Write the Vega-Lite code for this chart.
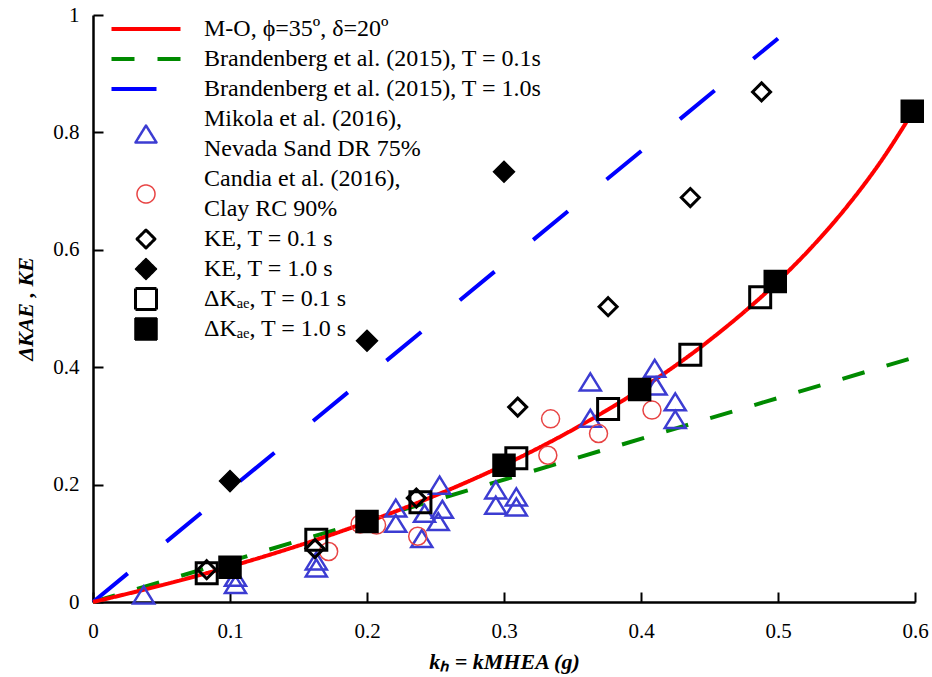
{
  "$schema": "https://vega.github.io/schema/vega-lite/v6.json",
  "width": 822,
  "height": 587,
  "autosize": {"type": "none"},
  "padding": {"left": 93, "top": 15, "right": 17, "bottom": 75},
  "background": "white",
  "config": {
    "font": "Liberation Serif",
    "view": {"stroke": null},
    "legend": {
      "orient": "none",
      "legendX": 41,
      "legendY": 2,
      "padding": 0,
      "labelFont": "Liberation Serif",
      "labelFontSize": 24,
      "labelColor": "black",
      "labelLimit": 600,
      "labelOffset": 46,
      "rowPadding": 6,
      "symbolSize": 4
    }
  },
  "data": {
    "values": [
      {"series": "Brandenberg et al. (2015), T = 0.1s", "kh": 0, "K": 0},
      {"series": "Brandenberg et al. (2015), T = 0.1s", "kh": 0.6, "K": 0.417},
      {"series": "Brandenberg et al. (2015), T = 1.0s", "kh": 0, "K": 0},
      {"series": "Brandenberg et al. (2015), T = 1.0s", "kh": 0.5, "K": 0.96},
      {"series": "M-O, ϕ=35º, δ=20º", "kh": 0, "K": 0},
      {"series": "M-O, ϕ=35º, δ=20º", "kh": 0.05, "K": 0.0285},
      {"series": "M-O, ϕ=35º, δ=20º", "kh": 0.1, "K": 0.0603},
      {"series": "M-O, ϕ=35º, δ=20º", "kh": 0.15, "K": 0.096},
      {"series": "M-O, ϕ=35º, δ=20º", "kh": 0.2, "K": 0.1361},
      {"series": "M-O, ϕ=35º, δ=20º", "kh": 0.25, "K": 0.1815},
      {"series": "M-O, ϕ=35º, δ=20º", "kh": 0.3, "K": 0.2333},
      {"series": "M-O, ϕ=35º, δ=20º", "kh": 0.35, "K": 0.2932},
      {"series": "M-O, ϕ=35º, δ=20º", "kh": 0.4, "K": 0.3629},
      {"series": "M-O, ϕ=35º, δ=20º", "kh": 0.45, "K": 0.4459},
      {"series": "M-O, ϕ=35º, δ=20º", "kh": 0.5, "K": 0.5463},
      {"series": "M-O, ϕ=35º, δ=20º", "kh": 0.525, "K": 0.6055},
      {"series": "M-O, ϕ=35º, δ=20º", "kh": 0.55, "K": 0.6727},
      {"series": "M-O, ϕ=35º, δ=20º", "kh": 0.575, "K": 0.7503},
      {"series": "M-O, ϕ=35º, δ=20º", "kh": 0.6, "K": 0.8411},
      {"series": "Mikola et al. (2016), Nevada Sand DR 75%", "kh": 0.037, "K": 0.012},
      {"series": "Mikola et al. (2016), Nevada Sand DR 75%", "kh": 0.104, "K": 0.03},
      {"series": "Mikola et al. (2016), Nevada Sand DR 75%", "kh": 0.104, "K": 0.042},
      {"series": "Mikola et al. (2016), Nevada Sand DR 75%", "kh": 0.163, "K": 0.058},
      {"series": "Mikola et al. (2016), Nevada Sand DR 75%", "kh": 0.163, "K": 0.07},
      {"series": "Mikola et al. (2016), Nevada Sand DR 75%", "kh": 0.221, "K": 0.134},
      {"series": "Mikola et al. (2016), Nevada Sand DR 75%", "kh": 0.221, "K": 0.16},
      {"series": "Mikola et al. (2016), Nevada Sand DR 75%", "kh": 0.24, "K": 0.108},
      {"series": "Mikola et al. (2016), Nevada Sand DR 75%", "kh": 0.242, "K": 0.151},
      {"series": "Mikola et al. (2016), Nevada Sand DR 75%", "kh": 0.253, "K": 0.199},
      {"series": "Mikola et al. (2016), Nevada Sand DR 75%", "kh": 0.255, "K": 0.158},
      {"series": "Mikola et al. (2016), Nevada Sand DR 75%", "kh": 0.252, "K": 0.137},
      {"series": "Mikola et al. (2016), Nevada Sand DR 75%", "kh": 0.294, "K": 0.191},
      {"series": "Mikola et al. (2016), Nevada Sand DR 75%", "kh": 0.294, "K": 0.165},
      {"series": "Mikola et al. (2016), Nevada Sand DR 75%", "kh": 0.309, "K": 0.179},
      {"series": "Mikola et al. (2016), Nevada Sand DR 75%", "kh": 0.309, "K": 0.162},
      {"series": "Mikola et al. (2016), Nevada Sand DR 75%", "kh": 0.363, "K": 0.375},
      {"series": "Mikola et al. (2016), Nevada Sand DR 75%", "kh": 0.363, "K": 0.313},
      {"series": "Mikola et al. (2016), Nevada Sand DR 75%", "kh": 0.41, "K": 0.398},
      {"series": "Mikola et al. (2016), Nevada Sand DR 75%", "kh": 0.411, "K": 0.368},
      {"series": "Mikola et al. (2016), Nevada Sand DR 75%", "kh": 0.425, "K": 0.341},
      {"series": "Mikola et al. (2016), Nevada Sand DR 75%", "kh": 0.425, "K": 0.311},
      {"series": "Candia et al. (2016), Clay RC 90%", "kh": 0.172, "K": 0.086},
      {"series": "Candia et al. (2016), Clay RC 90%", "kh": 0.195, "K": 0.133},
      {"series": "Candia et al. (2016), Clay RC 90%", "kh": 0.207, "K": 0.131},
      {"series": "Candia et al. (2016), Clay RC 90%", "kh": 0.237, "K": 0.112},
      {"series": "Candia et al. (2016), Clay RC 90%", "kh": 0.334, "K": 0.312},
      {"series": "Candia et al. (2016), Clay RC 90%", "kh": 0.332, "K": 0.25},
      {"series": "Candia et al. (2016), Clay RC 90%", "kh": 0.369, "K": 0.287},
      {"series": "Candia et al. (2016), Clay RC 90%", "kh": 0.408, "K": 0.327},
      {"series": "KE, T = 0.1 s", "kh": 0.083, "K": 0.055},
      {"series": "KE, T = 0.1 s", "kh": 0.162, "K": 0.091},
      {"series": "KE, T = 0.1 s", "kh": 0.236, "K": 0.177},
      {"series": "KE, T = 0.1 s", "kh": 0.31, "K": 0.332},
      {"series": "KE, T = 0.1 s", "kh": 0.376, "K": 0.503},
      {"series": "KE, T = 0.1 s", "kh": 0.436, "K": 0.689},
      {"series": "KE, T = 0.1 s", "kh": 0.488, "K": 0.869},
      {"series": "KE, T = 1.0 s", "kh": 0.1, "K": 0.206},
      {"series": "KE, T = 1.0 s", "kh": 0.2, "K": 0.445},
      {"series": "KE, T = 1.0 s", "kh": 0.3, "K": 0.733},
      {"series": "ΔKₐₑ, T = 0.1 s", "kh": 0.083, "K": 0.049},
      {"series": "ΔKₐₑ, T = 0.1 s", "kh": 0.163, "K": 0.106},
      {"series": "ΔKₐₑ, T = 0.1 s", "kh": 0.239, "K": 0.17},
      {"series": "ΔKₐₑ, T = 0.1 s", "kh": 0.309, "K": 0.245},
      {"series": "ΔKₐₑ, T = 0.1 s", "kh": 0.376, "K": 0.329},
      {"series": "ΔKₐₑ, T = 0.1 s", "kh": 0.436, "K": 0.421},
      {"series": "ΔKₐₑ, T = 0.1 s", "kh": 0.487, "K": 0.519},
      {"series": "ΔKₐₑ, T = 1.0 s", "kh": 0.1, "K": 0.059},
      {"series": "ΔKₐₑ, T = 1.0 s", "kh": 0.2, "K": 0.137},
      {"series": "ΔKₐₑ, T = 1.0 s", "kh": 0.3, "K": 0.233},
      {"series": "ΔKₐₑ, T = 1.0 s", "kh": 0.399, "K": 0.362},
      {"series": "ΔKₐₑ, T = 1.0 s", "kh": 0.498, "K": 0.546},
      {"series": "ΔKₐₑ, T = 1.0 s", "kh": 0.598, "K": 0.836}
    ]
  },
  "encoding": {
    "x": {
      "field": "kh",
      "type": "quantitative",
      "scale": {"domain": [0, 0.6], "nice": false, "zero": false},
      "axis": {
        "values": [0, 0.1, 0.2, 0.3, 0.4, 0.5, 0.6],
        "format": "~g",
        "grid": false,
        "labelFlush": false,
        "domainColor": "black",
        "domainWidth": 2.5,
        "tickColor": "black",
        "tickWidth": 2,
        "tickSize": -10,
        "labelPadding": 28,
        "labelFont": "Liberation Serif",
        "labelFontSize": 21,
        "labelColor": "black",
        "title": "kₕ = kMHEA (g)",
        "titleFont": "Liberation Serif",
        "titleFontSize": 22,
        "titleFontWeight": "bold",
        "titleFontStyle": "italic",
        "titleColor": "black",
        "titlePadding": 10
      }
    },
    "y": {
      "field": "K",
      "type": "quantitative",
      "scale": {"domain": [0, 1], "nice": false, "zero": false},
      "axis": {
        "values": [0, 0.2, 0.4, 0.6, 0.8, 1],
        "format": "~g",
        "grid": false,
        "labelFlush": false,
        "domainColor": "black",
        "domainWidth": 2.5,
        "tickColor": "black",
        "tickWidth": 2,
        "tickSize": -10,
        "labelPadding": 24,
        "labelFont": "Liberation Serif",
        "labelFontSize": 21,
        "labelColor": "black",
        "title": "ΔKAE , KE",
        "titleFont": "Liberation Serif",
        "titleFontSize": 22,
        "titleFontWeight": "bold",
        "titleFontStyle": "italic",
        "titleColor": "black",
        "titlePadding": 15
      }
    },
    "stroke": {
      "field": "series",
      "type": "nominal",
      "title": null,
      "scale": {
        "domain": ["M-O, ϕ=35º, δ=20º", "Brandenberg et al. (2015), T = 0.1s", "Brandenberg et al. (2015), T = 1.0s", "Mikola et al. (2016), Nevada Sand DR 75%", "Candia et al. (2016), Clay RC 90%", "KE, T = 0.1 s", "KE, T = 1.0 s", "ΔKₐₑ, T = 0.1 s", "ΔKₐₑ, T = 1.0 s"],
        "range": ["#ff0000", "#008a00", "#0000ff", "#3c3cd2", "#e84444", "black", "black", "black", "black"]
      },
      "legend": {
        "title": null,
        "labelExpr": "indexof(datum.label, '(2016), ') >= 0 ? split(replace(datum.label, '(2016), ', '(2016),|'), '|') : datum.label",
        "encode": {
          "labels": {"update": {"lineHeight": {"value": 30}, "dy": {"signal": "indexof(datum.label, '(2016), ') >= 0 ? -15 : 0"}}},
          "symbols": {"update": {"strokeJoin": {"value": "round"}}}
        }
      }
    },
    "strokeWidth": {
      "field": "series",
      "type": "nominal",
      "title": null,
      "scale": {
        "type": "ordinal",
        "domain": ["M-O, ϕ=35º, δ=20º", "Brandenberg et al. (2015), T = 0.1s", "Brandenberg et al. (2015), T = 1.0s", "Mikola et al. (2016), Nevada Sand DR 75%", "Candia et al. (2016), Clay RC 90%", "KE, T = 0.1 s", "KE, T = 1.0 s", "ΔKₐₑ, T = 0.1 s", "ΔKₐₑ, T = 1.0 s"],
        "range": [4, 4, 4, 2.5, 1.5, 3, 1.5, 3, 1.5]
      },
      "legend": {
        "title": null,
        "labelExpr": "indexof(datum.label, '(2016), ') >= 0 ? split(replace(datum.label, '(2016), ', '(2016),|'), '|') : datum.label",
        "encode": {
          "labels": {"update": {"lineHeight": {"value": 30}, "dy": {"signal": "indexof(datum.label, '(2016), ') >= 0 ? -15 : 0"}}},
          "symbols": {"update": {"strokeJoin": {"value": "round"}}}
        }
      }
    }
  },
  "layer": [
    {
      "transform": [{"filter": {"field": "series", "oneOf": ["Brandenberg et al. (2015), T = 0.1s", "Brandenberg et al. (2015), T = 1.0s"]}}],
      "mark": {"type": "line"},
      "encoding": {
        "strokeDash": {
          "field": "series",
          "type": "nominal",
          "title": null,
          "scale": {
            "domain": ["M-O, ϕ=35º, δ=20º", "Brandenberg et al. (2015), T = 0.1s", "Brandenberg et al. (2015), T = 1.0s", "Mikola et al. (2016), Nevada Sand DR 75%", "Candia et al. (2016), Clay RC 90%", "KE, T = 0.1 s", "KE, T = 1.0 s", "ΔKₐₑ, T = 0.1 s", "ΔKₐₑ, T = 1.0 s"],
            "range": [[1, 0], [23, 23], [45, 50], [1, 0], [1, 0], [1, 0], [1, 0], [1, 0], [1, 0]]
          },
          "legend": {
            "title": null,
            "labelExpr": "indexof(datum.label, '(2016), ') >= 0 ? split(replace(datum.label, '(2016), ', '(2016),|'), '|') : datum.label",
            "encode": {
              "labels": {"update": {"lineHeight": {"value": 30}, "dy": {"signal": "indexof(datum.label, '(2016), ') >= 0 ? -15 : 0"}}},
              "symbols": {"update": {"strokeJoin": {"value": "round"}}}
            }
          }
        }
      }
    },
    {
      "transform": [{"filter": {"field": "series", "equal": "M-O, ϕ=35º, δ=20º"}}],
      "mark": {"type": "line", "interpolate": "monotone"},
      "encoding": {
        "strokeDash": {
          "field": "series",
          "type": "nominal",
          "title": null,
          "scale": {
            "domain": ["M-O, ϕ=35º, δ=20º", "Brandenberg et al. (2015), T = 0.1s", "Brandenberg et al. (2015), T = 1.0s", "Mikola et al. (2016), Nevada Sand DR 75%", "Candia et al. (2016), Clay RC 90%", "KE, T = 0.1 s", "KE, T = 1.0 s", "ΔKₐₑ, T = 0.1 s", "ΔKₐₑ, T = 1.0 s"],
            "range": [[1, 0], [23, 23], [45, 50], [1, 0], [1, 0], [1, 0], [1, 0], [1, 0], [1, 0]]
          },
          "legend": {
            "title": null,
            "labelExpr": "indexof(datum.label, '(2016), ') >= 0 ? split(replace(datum.label, '(2016), ', '(2016),|'), '|') : datum.label",
            "encode": {
              "labels": {"update": {"lineHeight": {"value": 30}, "dy": {"signal": "indexof(datum.label, '(2016), ') >= 0 ? -15 : 0"}}},
              "symbols": {"update": {"strokeJoin": {"value": "round"}}}
            }
          }
        }
      }
    },
    {
      "transform": [{"filter": {"field": "series", "oneOf": ["Mikola et al. (2016), Nevada Sand DR 75%", "Candia et al. (2016), Clay RC 90%", "KE, T = 0.1 s", "KE, T = 1.0 s", "ΔKₐₑ, T = 0.1 s", "ΔKₐₑ, T = 1.0 s"]}}],
      "mark": {"type": "point", "size": 4, "opacity": 1},
      "encoding": {
        "shape": {
          "field": "series",
          "type": "nominal",
          "title": null,
          "scale": {
            "domain": ["M-O, ϕ=35º, δ=20º", "Brandenberg et al. (2015), T = 0.1s", "Brandenberg et al. (2015), T = 1.0s", "Mikola et al. (2016), Nevada Sand DR 75%", "Candia et al. (2016), Clay RC 90%", "KE, T = 0.1 s", "KE, T = 1.0 s", "ΔKₐₑ, T = 0.1 s", "ΔKₐₑ, T = 1.0 s"],
            "range": [
              "M-34.5,0L34.5,0",
              "M-34.5,0L34.5,0",
              "M-34.5,0L34.5,0",
              "M0,-8.5L10.5,8.5L-10.5,8.5Z",
              "M9,0A9,9,0,1,1,-9,0A9,9,0,1,1,9,0Z",
              "M0,-9L9,0L0,9L-9,0Z",
              "M0,-10.5L10.5,0L0,10.5L-10.5,0Z",
              "M-10.5,-10.5L10.5,-10.5L10.5,10.5L-10.5,10.5Z",
              "M-11,-11L11,-11L11,11L-11,11Z"
            ]
          },
          "legend": {
            "title": null,
            "labelExpr": "indexof(datum.label, '(2016), ') >= 0 ? split(replace(datum.label, '(2016), ', '(2016),|'), '|') : datum.label",
            "encode": {
              "labels": {"update": {"lineHeight": {"value": 30}, "dy": {"signal": "indexof(datum.label, '(2016), ') >= 0 ? -15 : 0"}}},
              "symbols": {"update": {"strokeJoin": {"value": "round"}}}
            }
          }
        },
        "fill": {
          "field": "series",
          "type": "nominal",
          "title": null,
          "scale": {
            "domain": ["M-O, ϕ=35º, δ=20º", "Brandenberg et al. (2015), T = 0.1s", "Brandenberg et al. (2015), T = 1.0s", "Mikola et al. (2016), Nevada Sand DR 75%", "Candia et al. (2016), Clay RC 90%", "KE, T = 0.1 s", "KE, T = 1.0 s", "ΔKₐₑ, T = 0.1 s", "ΔKₐₑ, T = 1.0 s"],
            "range": ["transparent", "transparent", "transparent", "transparent", "transparent", "transparent", "black", "transparent", "black"]
          },
          "legend": {
            "title": null,
            "labelExpr": "indexof(datum.label, '(2016), ') >= 0 ? split(replace(datum.label, '(2016), ', '(2016),|'), '|') : datum.label",
            "encode": {
              "labels": {"update": {"lineHeight": {"value": 30}, "dy": {"signal": "indexof(datum.label, '(2016), ') >= 0 ? -15 : 0"}}},
              "symbols": {"update": {"strokeJoin": {"value": "round"}}}
            }
          }
        }
      }
    }
  ]
}
